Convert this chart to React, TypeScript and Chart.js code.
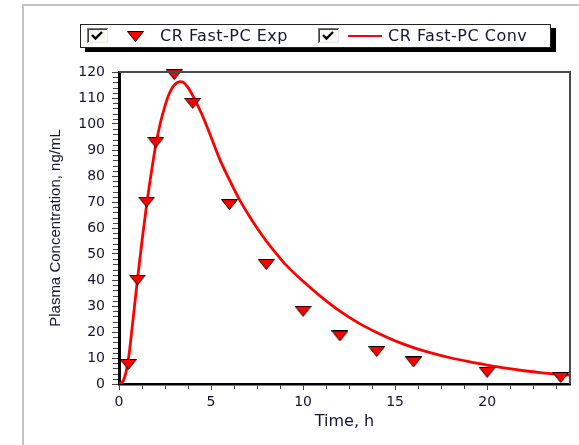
import React, { useEffect, useRef } from 'react';
import { Chart, registerables } from 'chart.js';

Chart.register(...registerables);

// ---- data ----
const expTime = [0.5, 1, 1.5, 2, 3, 4, 6, 8, 10, 12, 14, 16, 20, 24];
const expConc = [7.5, 40, 70, 93, 119, 108, 69, 46, 28, 18.5, 12.5, 8.5, 4.5, 2.5];

const convTime = [0, 0.25, 0.5, 0.75, 1, 1.25, 1.5, 1.75, 2, 2.25, 2.5, 2.75, 3, 3.33, 3.5, 3.75, 4, 4.25, 4.5, 4.75, 5, 5.5, 6, 6.5, 7, 7.5, 8, 8.5, 9, 10, 11, 12, 13, 14, 15, 16, 17, 18, 19, 20, 21, 22, 23, 24, 24.5];
const convConc = [0, 1.5, 9, 24, 40, 55, 69, 81, 92, 100.5, 107, 112, 115, 116.3, 116, 114, 111, 107.5, 103.8, 99.5, 95, 86, 78.5, 71.5, 65.5, 60, 55, 50.5, 46.3, 39.5, 33.4, 28, 23.5, 19.8, 16.6, 14, 11.9, 10.1, 8.6, 7.3, 6.1, 5.1, 4.3, 3.7, 3.4];

const yTickValues = [0, 10, 20, 30, 40, 50, 60, 70, 80, 90, 100, 110, 120];
const xTickValues = [0, 5, 10, 15, 20];
const xMin = 0;
const xMax = 24.5;
const yMin = 0;
const yMax = 120;
const yMinorStep = 2;
const xMinorStep = 1.25;

const seriesNames = ['CR Fast-PC Exp', 'CR Fast-PC Conv'];
const xTitle = 'Time, h';
const yTitle = 'Plasma Concentration, ng/mL';

const RED = '#ff0000';
const TEXT = '#14143a';

function makeTriangle(): HTMLCanvasElement {
  const c = document.createElement('canvas');
  c.width = 17;
  c.height = 11;
  const ctx = c.getContext('2d')!;
  ctx.beginPath();
  ctx.moveTo(0.5, 0.5);
  ctx.lineTo(16.5, 0.5);
  ctx.lineTo(8.5, 10.5);
  ctx.closePath();
  ctx.fillStyle = RED;
  ctx.fill();
  ctx.strokeStyle = '#000';
  ctx.lineWidth = 1;
  ctx.stroke();
  return c;
}

const decorPlugin = {
  id: 'decor',
  afterDraw(chart: any) {
    const { ctx, chartArea: a, scales } = chart;
    const x = scales.x;
    const y = scales.y;
    ctx.save();
    // frame top & right
    ctx.strokeStyle = '#4a4a4a';
    ctx.lineWidth = 2;
    ctx.beginPath();
    ctx.moveTo(a.left, a.top);
    ctx.lineTo(a.right, a.top);
    ctx.lineTo(a.right, a.bottom);
    ctx.stroke();
    // minor ticks
    ctx.strokeStyle = '#444';
    ctx.lineWidth = 1;
    ctx.beginPath();
    for (let v = yMin; v <= yMax + 1e-9; v += yMinorStep) {
      if (yTickValues.includes(v)) continue;
      const py = Math.round(y.getPixelForValue(v)) + 0.5;
      ctx.moveTo(a.left - 6, py);
      ctx.lineTo(a.left - 1, py);
    }
    for (let v = xMin; v <= xMax + 1e-9; v += xMinorStep) {
      if (xTickValues.includes(v)) continue;
      const px = Math.round(x.getPixelForValue(v)) + 0.5;
      ctx.moveTo(px, a.bottom + 1);
      ctx.lineTo(px, a.bottom + 5);
    }
    ctx.stroke();
    // titles
    ctx.fillStyle = TEXT;
    ctx.font = '16px "DejaVu Sans"';
    ctx.textAlign = 'center';
    ctx.textBaseline = 'alphabetic';
    ctx.fillText(xTitle, (a.left + a.right) / 2, 426);
    ctx.translate(56, (a.top + a.bottom) / 2);
    ctx.rotate(-Math.PI / 2);
    ctx.font = '15px "Liberation Sans"';
    ctx.textBaseline = 'middle';
    ctx.fillText(yTitle, 0, 0);
    ctx.restore();
  },
};

function CheckBox() {
  return (
    <svg width={21} height={15} style={{ display: 'block' }}>
      <rect x={0} y={0} width={21} height={15} fill="#e8e8e8" />
      <rect x={2} y={2} width={18} height={12} fill="#fbfbf4" />
      <path d="M0 0.5 H21 M0.5 0 V15" stroke="#7a7a7a" strokeWidth={1} />
      <path d="M1 1.5 H20 M1.5 1 V14" stroke="#404040" strokeWidth={1} />
      <polyline points="5,7 8.5,10.5 15,4" fill="none" stroke="#000" strokeWidth={2.4} />
    </svg>
  );
}

export default function App() {
  const canvasRef = useRef<HTMLCanvasElement | null>(null);

  useEffect(() => {
    if (!canvasRef.current) return;
    const tri = makeTriangle();
    const chart = new Chart(canvasRef.current, {
      type: 'line',
      data: {
        datasets: [
          {
            label: seriesNames[0],
            data: expTime.map((t, i) => ({ x: t, y: expConc[i] })),
            showLine: false,
            pointStyle: tri as any,
            pointRadius: 8,
            borderColor: '#000',
            backgroundColor: RED,
            order: 0,
            clip: false as any,
          },
          {
            label: seriesNames[1],
            data: convTime.map((t, i) => ({ x: t, y: convConc[i] })),
            borderColor: RED,
            borderWidth: 2.8,
            pointRadius: 0,
            fill: false,
            cubicInterpolationMode: 'monotone',
            order: 1,
          },
        ],
      },
      options: {
        animation: false,
        responsive: true,
        maintainAspectRatio: false,
        layout: { padding: { left: 0, top: 72, right: 7, bottom: 0 } },
        plugins: { legend: { display: false }, title: { display: false }, tooltip: { enabled: false } },
        scales: {
          x: {
            type: 'linear',
            min: xMin,
            max: xMax,
            afterFit: (s: any) => {
              s.height = 61;
            },
            afterBuildTicks: (s: any) => {
              s.ticks = xTickValues.map((v) => ({ value: v }));
            },
            ticks: {
              includeBounds: false,
              autoSkip: false,
              maxRotation: 0,
              padding: 4,
              color: TEXT,
              font: { family: 'DejaVu Sans', size: 14 },
            },
            grid: { drawOnChartArea: false, drawTicks: true, tickLength: 6, color: '#444' },
            border: { display: true, color: '#000', width: 2.5 },
          },
          y: {
            type: 'linear',
            min: yMin,
            max: yMax,
            afterFit: (s: any) => {
              s.width = 119;
            },
            afterBuildTicks: (s: any) => {
              s.ticks = yTickValues.map((v) => ({ value: v }));
            },
            ticks: {
              includeBounds: false,
              autoSkip: false,
              padding: 7,
              color: TEXT,
              font: { family: 'DejaVu Sans', size: 14 },
            },
            grid: { drawOnChartArea: false, drawTicks: true, tickLength: 7, color: '#444' },
            border: { display: true, color: '#000', width: 3 },
          },
        },
      },
      plugins: [decorPlugin],
    } as any);
    return () => chart.destroy();
  }, []);

  const legendText: React.CSSProperties = {
    position: 'absolute',
    top: 26,
    font: '16px "DejaVu Sans"',
    letterSpacing: '0.5px',
    color: TEXT,
    whiteSpace: 'nowrap',
    lineHeight: '20px',
  };

  return (
    <div style={{ position: 'absolute', left: 0, top: 0, width: 579, height: 445, background: '#fff', overflow: 'hidden' }}>
      <div
        style={{
          position: 'absolute',
          left: 22,
          top: 4,
          width: 600,
          height: 500,
          borderLeft: '2px solid #c4c4c4',
          borderTop: '2px solid #c4c4c4',
        }}
      />
      <canvas ref={canvasRef} style={{ position: 'absolute', left: 0, top: 0 }} />
      <div
        style={{
          position: 'absolute',
          left: 80,
          top: 24,
          width: 469,
          height: 22,
          border: '1px solid #222',
          background: '#fff',
          boxShadow: '5px 4px 0 #000',
        }}
      />
      <div style={{ position: 'absolute', left: 87, top: 28 }}>
        <CheckBox />
      </div>
      <svg style={{ position: 'absolute', left: 127, top: 31 }} width={17} height={11}>
        <polygon points="0.5,0.5 16.5,0.5 8.5,10.5" fill={RED} stroke="#000" strokeWidth={1} />
      </svg>
      <div style={{ ...legendText, left: 160 }}>{seriesNames[0]}</div>
      <div style={{ position: 'absolute', left: 318, top: 28 }}>
        <CheckBox />
      </div>
      <div style={{ position: 'absolute', left: 348, top: 35, width: 34, height: 2, background: RED }} />
      <div style={{ ...legendText, left: 388 }}>{seriesNames[1]}</div>
    </div>
  );
}
